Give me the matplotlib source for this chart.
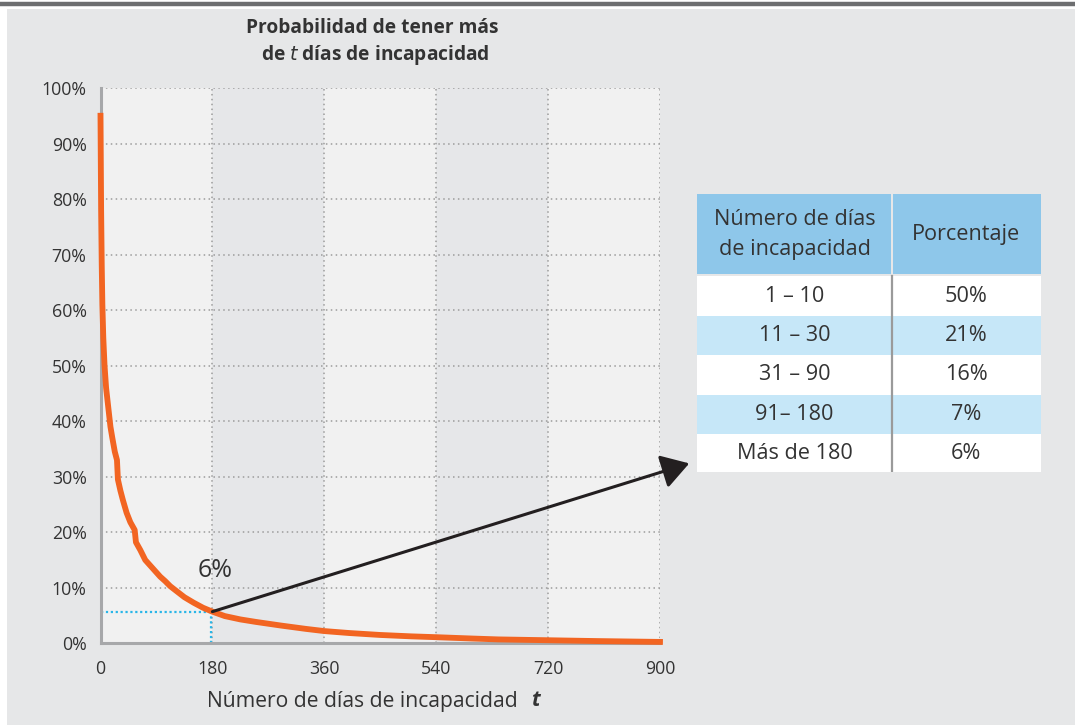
import matplotlib
matplotlib.use("Agg")
import matplotlib.pyplot as plt
from matplotlib.patches import Rectangle
from matplotlib.lines import Line2D

plt.rcParams['font.family'] = ['Open Sans', 'DejaVu Sans']

# ---------------- data ----------------
t_days = [0, 1, 2, 3, 4.5, 6.5, 9, 11, 13, 16, 19, 23, 26.5, 28, 32, 36, 42, 48, 55, 57,
          64, 72, 80, 88, 96, 104, 112, 120, 135, 150, 165, 180, 200, 225, 250, 290, 330,
          360, 400, 450, 500, 540, 600, 640, 720, 800, 900]
prob = [95, 78, 68, 61, 55, 50, 46, 44, 42, 39, 37, 34.5, 33, 29.5, 27.5, 25.8, 23.5, 21.8, 20.4, 18.2,
        16.8, 15, 14, 13, 12, 11.2, 10.3, 9.6, 8.3, 7.3, 6.4, 5.7, 4.9, 4.3, 3.85, 3.2, 2.6,
        2.2, 1.85, 1.5, 1.25, 1.1, 0.85, 0.7, 0.55, 0.4, 0.25]

x_ticks = [0, 180, 360, 540, 720, 900]
x_tick_labels = ['0', '180', '360', '540', '720', '900']
y_ticks = [0, 10, 20, 30, 40, 50, 60, 70, 80, 90, 100]
y_tick_labels = ['0%', '10%', '20%', '30%', '40%', '50%', '60%', '70%', '80%', '90%', '100%']

marker_t = 180
marker_p = 5.7
marker_label = '6%'

table_header = ['Número de días\nde incapacidad', 'Porcentaje']
table_ranges = ['1 – 10', '11 – 30', '31 – 90', '91– 180', 'Más de 180']
table_pcts = ['50%', '21%', '16%', '7%', '6%']

title_lines = ['Probabilidad de tener más', 'de $\\mathit{t}$ días de incapacidad']
x_label = 'Número de días de incapacidad'

# ---------------- figure ----------------
W, H = 1075, 725
fig = plt.figure(figsize=(W / 100, H / 100), dpi=100)
fig.patch.set_facecolor('white')

def fx(px):
    return px / W

def fy(py):
    return 1 - py / H

# grey panel and top rule
fig.add_artist(Rectangle((fx(7), 0), 1, fy(9), transform=fig.transFigure,
                         facecolor='#e6e7e8', edgecolor='none', zorder=0))
fig.add_artist(Line2D([0, 1], [fy(4), fy(4)], transform=fig.transFigure,
                      color='#6d6e70', lw=3.2, zorder=1))

TXT = '#333333'

# main axes
ax_l, ax_r, ax_t, ax_b = 100.5, 660, 88, 643.3
ax = fig.add_axes([fx(ax_l), fy(ax_b), fx(ax_r - ax_l), (ax_b - ax_t) / H])
ax.set_facecolor('#f1f1f1')
ax.set_xlim(0, 900)
ax.set_ylim(0, 100)
for x0 in (180, 540):
    ax.axvspan(x0, x0 + 180, color='#e6e7e9', zorder=0, lw=0)

ax.set_xticks(x_ticks)
ax.set_xticklabels(x_tick_labels)
ax.set_yticks(y_ticks)
ax.set_yticklabels(y_tick_labels)
ax.tick_params(length=0, labelsize=12.8, labelcolor=TXT)
ax.tick_params(axis='y', pad=10)
ax.tick_params(axis='x', pad=12)
ax.grid(True, color='#9c9c9c', linestyle=(0, (1, 2.2)), lw=1.1, zorder=1)
ax.set_axisbelow(True)
for s in ('top', 'right'):
    ax.spines[s].set_visible(False)
for s in ('left', 'bottom'):
    ax.spines[s].set_color('#a7a8aa')
    ax.spines[s].set_linewidth(2.2)
    ax.spines[s].set_zorder(2)

# blue dotted guides
ax.plot([0, marker_t - 3], [marker_p, marker_p], color='#29b6e8', lw=1.6,
        linestyle=(0, (1, 1.2)), zorder=2)
ax.plot([marker_t - 3, marker_t - 3], [0, marker_p], color='#29b6e8', lw=1.6,
        linestyle=(0, (1, 1.2)), zorder=2)

# curve
ax.plot(t_days, prob, color='#f26522', lw=4.2, zorder=4, solid_joinstyle='round',
        clip_on=False)

# label and arrow
ax.text(156, 13.2, marker_label, fontsize=18, color=TXT, va='center', ha='left',
        zorder=5)
ax.annotate('', xy=(947, 32.4), xytext=(marker_t, marker_p),
            arrowprops=dict(arrowstyle='-|>,head_length=0.42,head_width=0.26',
                            mutation_scale=40, lw=2.2, color='#231f20',
                            shrinkA=0, shrinkB=0),
            annotation_clip=False, zorder=5)

# title
fig.text(fx(372), fy(28), title_lines[0], ha='center', va='center', fontsize=13.8,
         fontweight='bold', color=TXT)
fig.text(fx(375), fy(55), title_lines[1], ha='center', va='center', fontsize=13.8,
         fontweight='bold', color=TXT)

# x label
fig.text(fx(207), fy(701), x_label, ha='left', va='center', fontsize=15.2, color=TXT)
fig.text(fx(531), fy(701), 't', ha='left', va='center', fontsize=15.2, color=TXT,
         fontweight='bold', fontstyle='italic')

# ---------------- table ----------------
tl, tr, tt, tb = 697.3, 1040.7, 194.3, 472.3
tax = fig.add_axes([fx(tl), fy(tb), fx(tr - tl), (tb - tt) / H])
tax.set_xlim(0, tr - tl)
tax.set_ylim(tb - tt, 0)
tax.axis('off')
tw = tr - tl
split = 891.7 - tl
head_h = 81
row_h = (tb - tt - head_h) / len(table_ranges)
hdr_col = '#8ec7ea'
row_cols = ['#ffffff', '#c6e7f8']
TFS = 15.6

tax.add_patch(Rectangle((0, 0), split - 1, head_h - 1, facecolor=hdr_col, edgecolor='none'))
tax.add_patch(Rectangle((split + 1, 0), tw - split - 1, head_h - 1, facecolor=hdr_col,
                        edgecolor='none'))
tax.text(split / 2, head_h / 2, table_header[0], ha='center', va='center', fontsize=TFS,
         color=TXT, linespacing=1.55)
tax.text((split + tw) / 2, head_h / 2, table_header[1], ha='center', va='center',
         fontsize=TFS, color=TXT)
for i, (rng, pct) in enumerate(zip(table_ranges, table_pcts)):
    y0 = head_h + 1 + i * row_h
    tax.add_patch(Rectangle((0, y0), tw, row_h, facecolor=row_cols[i % 2], edgecolor='none'))
    tax.text(split / 2, y0 + row_h / 2, rng, ha='center', va='center', fontsize=TFS, color=TXT)
    tax.text((split + tw) / 2, y0 + row_h / 2, pct, ha='center', va='center', fontsize=TFS,
             color=TXT)
tax.plot([split, split], [head_h + 1, tb - tt], color='#9a9a9a', lw=1.6)

fig.savefig('out.png', dpi=100, facecolor=fig.get_facecolor())
